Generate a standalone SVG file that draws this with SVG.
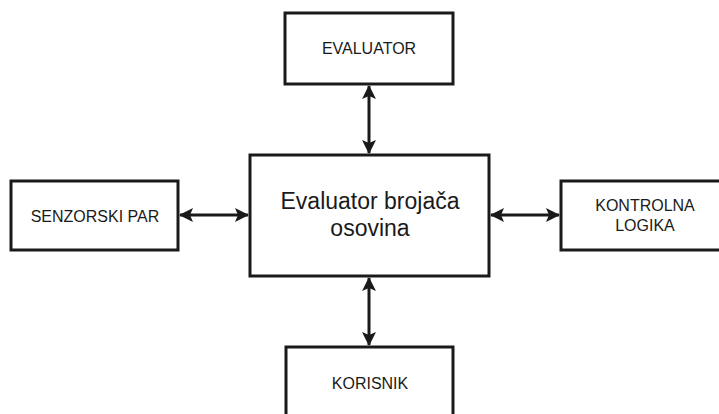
<svg xmlns="http://www.w3.org/2000/svg" width="719" height="414" viewBox="0 0 719 414">
<defs>
<marker id="ah" markerUnits="userSpaceOnUse" markerWidth="14" markerHeight="14" refX="13" refY="7" orient="auto-start-reverse" viewBox="0 0 14 14">
<path d="M0,0 L14,7 L0,14 L3,7 Z" fill="#1a1a1a"/>
</marker>
<style>
.box{fill:#fff;stroke:#1a1a1a;stroke-width:3}
.lbl{font-family:"Liberation Sans",Arial,sans-serif;font-size:16px;fill:#1a1a1a;text-anchor:middle}
.big{font-family:"Liberation Sans",Arial,sans-serif;font-size:23px;fill:#1a1a1a;text-anchor:middle}
.con{stroke:#1a1a1a;stroke-width:3;fill:none;marker-start:url(#ah);marker-end:url(#ah)}
</style>
</defs>
<rect width="719" height="414" fill="#fff"/>
<g id="connectors">
<line class="con" x1="369" y1="86" x2="369" y2="153"/>
<line class="con" x1="369" y1="278" x2="369" y2="345"/>
<line class="con" x1="180" y1="215" x2="248" y2="215"/>
<line class="con" x1="491" y1="215" x2="559" y2="215"/>
</g>
<g id="evaluator">
<rect class="box" x="285" y="13" width="168" height="71"/>
<text class="lbl" x="369" y="54">EVALUATOR</text>
</g>
<g id="center">
<rect class="box" x="250" y="155" width="239" height="121"/>
<text class="big" x="370" y="209">Evaluator brojača</text>
<text class="big" x="370" y="236">osovina</text>
</g>
<g id="senzorski">
<rect class="box" x="11" y="181" width="167" height="69"/>
<text class="lbl" x="95" y="222">SENZORSKI PAR</text>
</g>
<g id="kontrolna">
<rect class="box" x="561" y="181" width="170" height="69"/>
<text class="lbl" x="645" y="211">KONTROLNA</text>
<text class="lbl" x="645" y="231">LOGIKA</text>
</g>
<g id="korisnik">
<rect class="box" x="286" y="347" width="167" height="80"/>
<text class="lbl" x="370" y="389">KORISNIK</text>
</g>
</svg>
